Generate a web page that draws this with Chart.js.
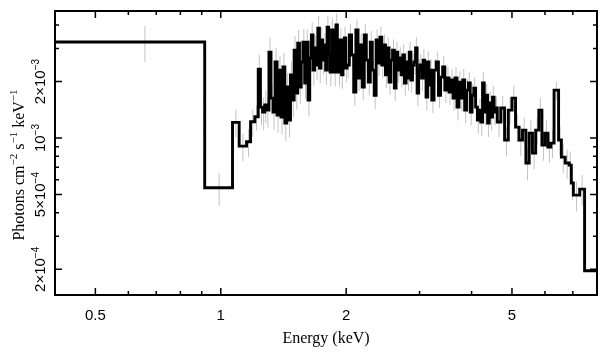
<!DOCTYPE html>
<html>
<head>
<meta charset="utf-8">
<script src="https://cdn.jsdelivr.net/npm/chart.js@4.4.1/dist/chart.umd.min.js"></script>
<style>
  html, body { margin: 0; padding: 0; background: #fff; }
  #spec { display: block; }
</style>
</head>
<body>
<canvas id="spec" width="609" height="357"></canvas>
<script>
// spectrum bins: lower edges in keV, plus the last upper edge
const binEdges = [
  0.40, 0.915, 1.067, 1.107, 1.153, 1.179, 1.207,
  1.230, 1.245, 1.260, 1.275, 1.290, 1.305, 1.320, 1.335, 1.350, 1.365, 1.380, 1.395, 1.410,
  1.425, 1.440, 1.455, 1.470, 1.485, 1.500, 1.515, 1.530, 1.545, 1.560, 1.575, 1.590, 1.605,
  1.620, 1.635, 1.650, 1.665, 1.680, 1.695, 1.710, 1.725, 1.740, 1.755, 1.770, 1.785, 1.800,
  1.815, 1.830, 1.845, 1.860, 1.875, 1.890, 1.905, 1.920, 1.935, 1.950, 1.965, 1.980, 1.995,
  2.010, 2.035, 2.060, 2.085, 2.110, 2.135, 2.160, 2.185, 2.210, 2.235, 2.260, 2.285, 2.310,
  2.335, 2.360, 2.385, 2.410, 2.435, 2.460, 2.485, 2.510, 2.535, 2.560, 2.585, 2.610, 2.635,
  2.660, 2.685, 2.710, 2.735, 2.760, 2.785, 2.810, 2.835, 2.860, 2.885, 2.910, 2.935, 2.960,
  2.985, 3.010, 3.035, 3.060, 3.085, 3.110, 3.135, 3.160, 3.185,
  3.21, 3.25, 3.29, 3.33, 3.37, 3.41, 3.45, 3.49, 3.53, 3.57, 3.61, 3.65, 3.69, 3.73, 3.77,
  3.81, 3.85, 3.89, 3.93, 3.97, 4.01, 4.05, 4.09, 4.13, 4.17, 4.21, 4.25, 4.29, 4.33, 4.37,
  4.41, 4.45, 4.49, 4.53, 4.57,
  4.61, 4.70, 4.80, 4.90, 5.00, 5.10, 5.20, 5.30, 5.40, 5.50, 5.60, 5.70, 5.80, 5.90, 6.00, 6.10,
  6.20, 6.31, 6.47, 6.57, 6.71, 6.86, 6.94, 7.02, 7.27, 7.47,
  8.50
];

// flux per bin, in units of 1e-3 photons cm^-2 s^-1 keV^-1
const flux = [
  3.25, 0.544, 1.212, 0.906, 0.956, 1.221, 1.298,
  2.33, 1.462, 1.375, 1.499, 1.409, 2.87, 1.633, 1.375, 2.54, 1.326, 2.30, 1.294,
  2.39, 1.202, 1.87, 1.247, 2.17, 1.594, 2.94, 1.736, 3.205, 1.87, 2.54, 3.24,
  1.963, 3.24, 1.594, 2.667, 3.54, 2.30, 3.02, 2.45, 3.85, 2.36, 3.33, 2.60,
  3.13, 2.30, 3.90, 2.77, 2.25, 3.76, 2.94, 2.25, 4.00, 2.60, 2.25, 3.33,
  2.17, 3.02, 3.41, 2.36,
  2.45, 3.54, 2.77, 1.758, 3.76, 2.087, 3.13, 1.87, 3.54, 2.60, 1.987, 3.24,
  2.30, 1.69, 3.33, 2.51, 3.45, 2.45, 3.13, 2.17, 3.02, 1.987, 2.60, 2.94,
  1.846, 2.87, 2.30, 2.667, 2.17, 2.77, 1.963, 2.54, 2.087, 2.87, 2.04, 2.45,
  2.54, 3.02, 1.736, 2.30, 2.45, 2.087, 2.60, 2.25, 1.653, 2.54, 1.915, 2.30,
  1.594, 2.30, 2.54, 1.69, 2.112, 2.39, 1.80, 2.087, 1.758, 2.04,
  1.633, 2.087, 1.462, 1.987, 1.633, 2.04, 1.409, 1.80, 1.963, 1.375,
  1.69, 1.846, 1.462, 1.247, 1.409, 1.217, 1.963, 1.375, 1.69, 1.202,
  1.536, 1.294, 1.653, 1.375, 1.445,
  1.217, 1.445, 0.976, 1.409, 1.633, 1.144, 0.976, 1.103, 0.736, 1.063, 0.832, 1.103, 1.409, 0.918, 1.063, 0.896,
  0.940, 1.80, 0.976, 0.792, 0.736, 0.718, 0.576, 0.497, 0.535, 0.1965
];

// 1-sigma error per bin, same units
const fluxErr = [
  0.72, 0.108, 0.20, 0.15, 0.16, 0.20, 0.20,
  0.45, 0.29, 0.27, 0.29, 0.27, 0.55, 0.30, 0.27, 0.48, 0.26, 0.43, 0.25,
  0.45, 0.24, 0.35, 0.24, 0.40, 0.30, 0.54, 0.32, 0.56, 0.34, 0.45, 0.56,
  0.35, 0.55, 0.29, 0.46, 0.58, 0.40, 0.50, 0.41, 0.62, 0.40, 0.54, 0.43,
  0.50, 0.38, 0.60, 0.44, 0.37, 0.58, 0.46, 0.36, 0.60, 0.41, 0.36, 0.51,
  0.34, 0.46, 0.51, 0.37,
  0.37, 0.50, 0.40, 0.27, 0.52, 0.31, 0.45, 0.28, 0.50, 0.38, 0.30, 0.46,
  0.34, 0.26, 0.47, 0.37, 0.48, 0.36, 0.44, 0.32, 0.42, 0.29, 0.37, 0.41,
  0.27, 0.40, 0.33, 0.38, 0.31, 0.39, 0.28, 0.36, 0.30, 0.40, 0.29, 0.35,
  0.36, 0.42, 0.26, 0.33, 0.35, 0.30, 0.37, 0.32, 0.25, 0.36, 0.28, 0.33,
  0.24, 0.33, 0.36, 0.25, 0.31, 0.34, 0.26, 0.30, 0.26, 0.29,
  0.24, 0.30, 0.22, 0.28, 0.24, 0.29, 0.21, 0.26, 0.28, 0.21,
  0.25, 0.27, 0.22, 0.19, 0.21, 0.19, 0.28, 0.21, 0.25, 0.19,
  0.23, 0.20, 0.24, 0.21, 0.22,
  0.20, 0.23, 0.17, 0.23, 0.26, 0.19, 0.17, 0.18, 0.14, 0.18, 0.15, 0.18, 0.23, 0.16, 0.18, 0.16,
  0.16, 0.20, 0.17, 0.14, 0.13, 0.13, 0.11, 0.09, 0.10, 0.04
];
const FLUX_UNIT = 1e-3;

// axes
const xTicksLabeled = [0.5, 1, 2, 5];
const xTicksMinor = [0.6, 0.7, 0.8, 0.9, 3, 4, 6, 7];
const yTicksLabeled = [2e-4, 5e-4, 1e-3, 2e-3];
const yTickMantissa = ['2×10', '5×10', '10', '2×10'];
const yTickExponent = ['−4', '−4', '−3', '−3'];
const yTicksMinor = [3e-4, 4e-4, 6e-4, 7e-4, 8e-4, 9e-4, 3e-3, 4e-3];
const yTitleParts = [['Photons cm', false], ['−2', true], [' s', false], ['−1', true], [' keV', false], ['−1', true]];

const SANS = '"Liberation Sans", Arial, Helvetica, sans-serif';
const SERIF = '"Liberation Serif", "Times New Roman", Times, serif';

// histogram steps: one point per lower edge, plus the final upper edge
const stepPoints = binEdges.map((e, i) => ({ x: e, y: flux[Math.min(i, flux.length - 1)] * FLUX_UNIT }));
const errorBars = flux.map((v, i) => ({
  x: (binEdges[i] + binEdges[i + 1]) / 2,
  y: [(v - fluxErr[i]) * FLUX_UNIT, (v + fluxErr[i]) * FLUX_UNIT]
}));

// text with raised, smaller parts, centred on (x, y) and rotated
function drawRich(ctx, parts, size, family, x, y, angle) {
  const supSize = Math.round(size * 0.68);
  ctx.save();
  ctx.translate(x, y);
  ctx.rotate(angle);
  const widths = parts.map(([t, sup]) => {
    ctx.font = (sup ? supSize : size) + 'px ' + family;
    return ctx.measureText(t).width;
  });
  let cx = -widths.reduce((a, b) => a + b, 0) / 2;
  const base = size * 0.35;
  ctx.textAlign = 'left';
  ctx.textBaseline = 'alphabetic';
  parts.forEach(([t, sup], i) => {
    ctx.font = (sup ? supSize : size) + 'px ' + family;
    ctx.fillText(t, cx, sup ? base - size * 0.42 : base);
    cx += widths[i];
  });
  ctx.restore();
}

// frame, inward ticks on all four sides, y tick labels and y title
const frameTicks = {
  id: 'frameTicks',
  afterDatasetsDraw(chart) {
    const { ctx, chartArea: a, scales: { x, y } } = chart;
    ctx.save();
    ctx.strokeStyle = '#000';
    ctx.fillStyle = '#000';
    ctx.lineWidth = 1.5;
    const xTick = (vals, len) => vals.forEach(v => {
      const px = x.getPixelForValue(v);
      ctx.beginPath();
      ctx.moveTo(px, a.bottom); ctx.lineTo(px, a.bottom - len);
      ctx.moveTo(px, a.top); ctx.lineTo(px, a.top + len);
      ctx.stroke();
    });
    const yTick = (vals, len) => vals.forEach(v => {
      const py = y.getPixelForValue(v);
      ctx.beginPath();
      ctx.moveTo(a.left, py); ctx.lineTo(a.left + len, py);
      ctx.moveTo(a.right, py); ctx.lineTo(a.right - len, py);
      ctx.stroke();
    });
    xTick(xTicksLabeled, 7);
    xTick(xTicksMinor, 4);
    yTick(yTicksLabeled, 7);
    yTick(yTicksMinor, 4);

    ctx.lineWidth = 2;
    ctx.strokeRect(a.left, a.top, a.right - a.left, a.bottom - a.top);

    yTicksLabeled.forEach((v, i) => {
      drawRich(ctx, [[yTickMantissa[i], false], [yTickExponent[i], true]], 15, SANS,
        a.left - 15, y.getPixelForValue(v), -Math.PI / 2);
    });
    drawRich(ctx, yTitleParts, 16, SERIF, 18, 165, -Math.PI / 2);
    ctx.restore();
  }
};

new Chart(document.getElementById('spec'), {
  type: 'line',
  data: {
    datasets: [
      {
        label: 'spectrum',
        data: stepPoints,
        stepped: 'before',
        borderColor: '#000',
        borderWidth: 2.9,
        pointRadius: 0,
        fill: false,
        clip: 0
      },
      {
        type: 'bar',
        label: 'errors',
        data: errorBars,
        backgroundColor: '#c2c2c2',
        borderWidth: 0,
        barThickness: 1,
        inflateAmount: 0,
        grouped: false,
        clip: 0
      }
    ]
  },
  options: {
    responsive: false,
    animation: false,
    devicePixelRatio: 1,
    layout: { padding: { top: 11, right: 12, left: 0, bottom: 0 } },
    plugins: { legend: { display: false }, tooltip: { enabled: false } },
    scales: {
      x: {
        type: 'logarithmic',
        min: 0.4,
        max: 8,
        offset: false,
        grid: { display: false },
        border: { display: false },
        afterBuildTicks: s => {
          s.ticks = [...xTicksLabeled, ...xTicksMinor].sort((p, q) => p - q).map(v => ({ value: v }));
        },
        afterFit: s => { s.height = 62; },
        ticks: {
          autoSkip: false,
          maxRotation: 0,
          padding: 4,
          color: '#000',
          font: { family: SANS, size: 15 },
          callback: v => xTicksLabeled.includes(v) ? String(v) : ''
        },
        title: {
          display: true,
          text: 'Energy (keV)',
          color: '#000',
          font: { family: SERIF, size: 16 },
          padding: { top: 0, bottom: 9 }
        }
      },
      y: {
        type: 'logarithmic',
        min: 1.46e-4,
        max: 4.75e-3,
        grid: { display: false },
        border: { display: false },
        ticks: { display: false },
        afterFit: s => { s.width = 55; }
      }
    }
  },
  plugins: [frameTicks]
});
</script>
</body>
</html>
